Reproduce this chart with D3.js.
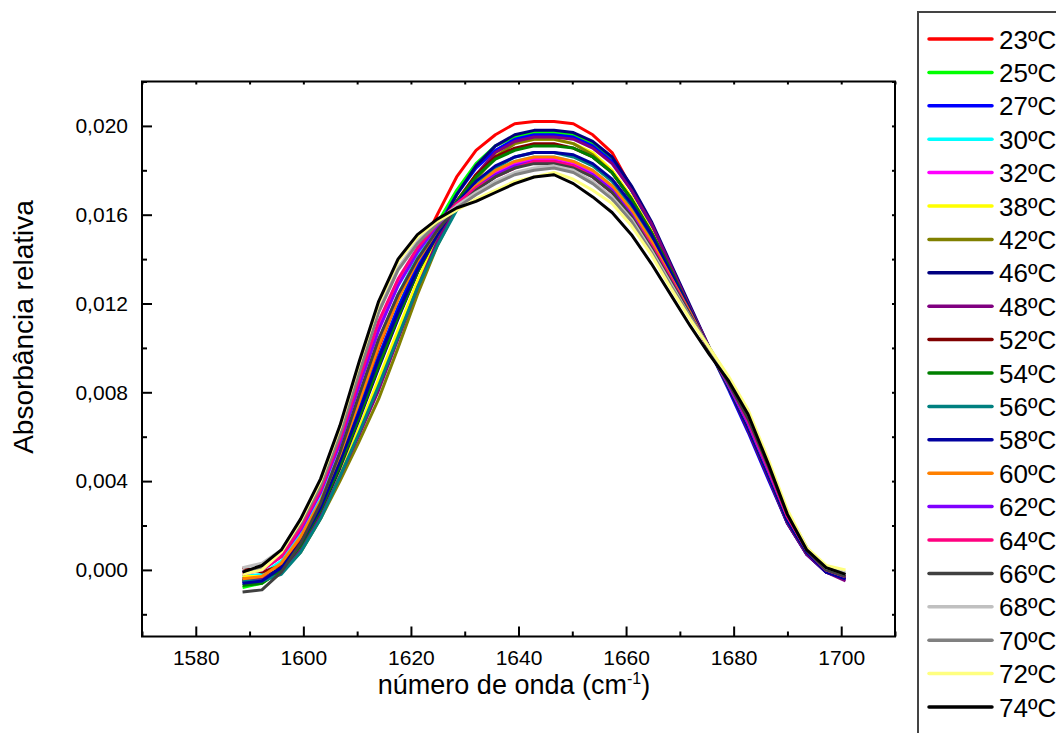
<!DOCTYPE html>
<html>
<head>
<meta charset="utf-8">
<script src="https://cdn.jsdelivr.net/npm/d3@7"></script>
<style>
  html, body { margin: 0; padding: 0; background: #fff; }
  svg { display: block; font-family: "Liberation Sans", Arial, sans-serif; }
</style>
</head>
<body>
<svg id="chart" width="1056" height="733"></svg>
<script>
// ---------------- DATA ----------------
const wavenumbers = [1588.7, 1592.3, 1595.9, 1599.5, 1603.2, 1606.8, 1610.4, 1614.0, 1617.6, 1621.2,
  1624.9, 1628.5, 1632.1, 1635.7, 1639.3, 1642.9, 1646.6, 1650.2, 1653.8, 1657.4,
  1661.0, 1664.7, 1668.3, 1671.9, 1675.5, 1679.1, 1682.7, 1686.4, 1690.0, 1693.6, 1697.2, 1700.8];

const seriesNames = ["23ºC","25ºC","27ºC","30ºC","32ºC","38ºC","42ºC","46ºC","48ºC","52ºC","54ºC",
  "56ºC","58ºC","60ºC","62ºC","64ºC","66ºC","68ºC","70ºC","72ºC","74ºC"];

const seriesColors = ["#FF0000","#00FF00","#0000FF","#00FFFF","#FF00FF","#FFFF00","#808000","#000080",
  "#800080","#800000","#008000","#008080","#0000A0","#FF8000","#8000FF","#FF0080","#404040",
  "#C0C0C0","#808080","#FFFF80","#000000"];

const s23 = [-0.0005,-0.0004,0.0002,0.0014,0.0030,0.0051,0.0075,0.0100,0.0122,0.0142,0.0160,
  0.0177,0.0189,0.0196,0.0201,0.0202,0.0202,0.0201,0.0196,0.0188,0.0172,
  0.0156,0.0137,0.0118,0.0100,0.0082,0.0064,0.0043,0.0022,0.0008,-0.0001,-0.0004];
const s25 = [-0.0008,-0.0006,0.0000,0.0012,0.0028,0.0049,0.0072,0.0096,0.0118,0.0138,0.0156,
  0.0171,0.0183,0.0191,0.0195,0.0197,0.0197,0.0196,0.0192,0.0185,0.0171,
  0.0155,0.0136,0.0118,0.0100,0.0083,0.0065,0.0044,0.0023,0.0009,0.0000,-0.0003];
const s27 = [-0.0006,-0.0005,0.0001,0.0012,0.0028,0.0049,0.0072,0.0096,0.0118,0.0137,0.0154,
  0.0169,0.0181,0.0189,0.0194,0.0196,0.0196,0.0195,0.0191,0.0184,0.0171,
  0.0155,0.0136,0.0118,0.0099,0.0081,0.0062,0.0041,0.0021,0.0007,-0.0001,-0.0004];
const s30 = [-0.0003,-0.0002,0.0004,0.0016,0.0032,0.0053,0.0078,0.0103,0.0124,0.0141,0.0155,
  0.0166,0.0174,0.0180,0.0184,0.0186,0.0186,0.0184,0.0180,0.0173,0.0162,
  0.0148,0.0132,0.0116,0.0099,0.0083,0.0066,0.0045,0.0024,0.0009,0.0000,-0.0003];
const s32 = [-0.0001,0.0000,0.0006,0.0018,0.0035,0.0057,0.0084,0.0109,0.0129,0.0144,0.0156,
  0.0166,0.0173,0.0179,0.0183,0.0185,0.0185,0.0183,0.0179,0.0172,0.0161,
  0.0147,0.0131,0.0115,0.0099,0.0083,0.0067,0.0045,0.0024,0.0009,0.0000,-0.0003];
const s38 = [-0.0003,-0.0003,0.0001,0.0010,0.0025,0.0044,0.0064,0.0086,0.0108,0.0130,0.0150,
  0.0166,0.0178,0.0187,0.0192,0.0194,0.0194,0.0192,0.0188,0.0180,0.0168,
  0.0153,0.0135,0.0117,0.0099,0.0082,0.0065,0.0044,0.0023,0.0008,0.0000,-0.0003];
const s42 = [-0.0004,-0.0004,-0.0001,0.0008,0.0023,0.0040,0.0058,0.0077,0.0100,0.0124,0.0146,
  0.0163,0.0176,0.0186,0.0192,0.0194,0.0194,0.0192,0.0187,0.0179,0.0167,
  0.0152,0.0135,0.0117,0.0099,0.0082,0.0065,0.0044,0.0024,0.0009,0.0000,-0.0003];
const s46 = [-0.0005,-0.0004,0.0001,0.0011,0.0026,0.0046,0.0068,0.0091,0.0113,0.0134,0.0153,
  0.0169,0.0182,0.0191,0.0196,0.0198,0.0198,0.0197,0.0193,0.0186,0.0173,
  0.0157,0.0138,0.0119,0.0100,0.0082,0.0063,0.0042,0.0021,0.0007,-0.0001,-0.0004];
const s48 = [-0.0004,-0.0004,0.0000,0.0009,0.0024,0.0042,0.0061,0.0081,0.0104,0.0127,0.0148,
  0.0165,0.0178,0.0188,0.0193,0.0195,0.0195,0.0194,0.0190,0.0183,0.0171,
  0.0156,0.0137,0.0118,0.0100,0.0082,0.0063,0.0042,0.0021,0.0007,-0.0001,-0.0005];
const s52 = [0.0001,-0.0001,0.0002,0.0012,0.0027,0.0047,0.0069,0.0092,0.0114,0.0134,0.0151,
  0.0166,0.0178,0.0186,0.0190,0.0192,0.0192,0.0190,0.0186,0.0179,0.0167,
  0.0152,0.0135,0.0117,0.0099,0.0082,0.0065,0.0044,0.0023,0.0008,0.0000,-0.0003];
const s54 = [-0.0007,-0.0006,0.0000,0.0011,0.0027,0.0047,0.0069,0.0092,0.0114,0.0134,0.0151,
  0.0166,0.0177,0.0185,0.0189,0.0191,0.0191,0.0190,0.0186,0.0179,0.0167,
  0.0152,0.0135,0.0117,0.0099,0.0082,0.0064,0.0043,0.0022,0.0008,0.0000,-0.0003];
const s56 = [-0.0005,-0.0005,-0.0002,0.0008,0.0023,0.0042,0.0062,0.0083,0.0105,0.0127,0.0146,
  0.0162,0.0173,0.0181,0.0186,0.0188,0.0188,0.0186,0.0182,0.0175,0.0164,
  0.0150,0.0133,0.0116,0.0099,0.0083,0.0066,0.0045,0.0024,0.0009,0.0000,-0.0003];
const s58 = [-0.0006,-0.0005,0.0001,0.0012,0.0028,0.0049,0.0071,0.0095,0.0116,0.0135,0.0151,
  0.0165,0.0175,0.0182,0.0186,0.0188,0.0188,0.0187,0.0183,0.0176,0.0165,
  0.0151,0.0134,0.0117,0.0099,0.0082,0.0064,0.0043,0.0022,0.0008,-0.0001,-0.0004];
const s60 = [-0.0004,-0.0003,0.0003,0.0015,0.0031,0.0052,0.0076,0.0101,0.0122,0.0139,0.0153,
  0.0164,0.0173,0.0180,0.0184,0.0186,0.0186,0.0184,0.0180,0.0173,0.0162,
  0.0148,0.0132,0.0116,0.0099,0.0083,0.0066,0.0045,0.0024,0.0009,0.0000,-0.0003];
const s62 = [-0.0001,0.0000,0.0006,0.0018,0.0035,0.0057,0.0083,0.0108,0.0128,0.0143,0.0155,
  0.0165,0.0172,0.0178,0.0182,0.0184,0.0184,0.0182,0.0178,0.0171,0.0160,
  0.0146,0.0131,0.0115,0.0099,0.0083,0.0066,0.0045,0.0024,0.0009,0.0000,-0.0003];
const s64 = [-0.0002,0.0000,0.0006,0.0019,0.0036,0.0059,0.0086,0.0112,0.0131,0.0145,0.0156,
  0.0165,0.0172,0.0177,0.0181,0.0184,0.0184,0.0182,0.0177,0.0170,0.0159,
  0.0146,0.0131,0.0115,0.0099,0.0084,0.0067,0.0046,0.0024,0.0009,0.0000,-0.0003];
const s66 = [-0.0010,-0.0009,-0.0001,0.0012,0.0030,0.0053,0.0079,0.0104,0.0124,0.0140,0.0153,
  0.0163,0.0171,0.0177,0.0181,0.0183,0.0183,0.0181,0.0177,0.0170,0.0159,
  0.0145,0.0130,0.0115,0.0099,0.0084,0.0068,0.0047,0.0025,0.0009,0.0000,-0.0003];
const s68 = [0.0001,0.0003,0.0009,0.0022,0.0039,0.0062,0.0090,0.0117,0.0136,0.0148,0.0157,
  0.0164,0.0170,0.0175,0.0179,0.0181,0.0182,0.0180,0.0175,0.0168,0.0158,
  0.0144,0.0129,0.0114,0.0100,0.0086,0.0071,0.0049,0.0026,0.0010,0.0001,-0.0001];
const s70 = [-0.0001,0.0001,0.0008,0.0021,0.0038,0.0061,0.0089,0.0116,0.0135,0.0147,0.0156,
  0.0163,0.0169,0.0174,0.0178,0.0180,0.0181,0.0179,0.0174,0.0167,0.0157,
  0.0143,0.0128,0.0114,0.0100,0.0086,0.0070,0.0049,0.0026,0.0010,0.0001,-0.0002];
const s72 = [-0.0002,0.0000,0.0008,0.0022,0.0040,0.0064,0.0093,0.0120,0.0139,0.0150,0.0157,
  0.0162,0.0167,0.0171,0.0175,0.0177,0.0179,0.0176,0.0171,0.0165,0.0155,
  0.0142,0.0127,0.0113,0.0100,0.0087,0.0072,0.0050,0.0027,0.0010,0.0002,0.0000];
const s74 = [-0.0001,0.0002,0.0009,0.0023,0.0041,0.0065,0.0094,0.0121,0.0140,0.0151,0.0158,
  0.0163,0.0166,0.0170,0.0174,0.0177,0.0178,0.0174,0.0168,0.0161,0.0151,
  0.0138,0.0124,0.0110,0.0097,0.0085,0.0070,0.0048,0.0025,0.0009,0.0001,-0.0002];

const seriesValues = [s23,s25,s27,s30,s32,s38,s42,s46,s48,s52,s54,s56,s58,s60,s62,s64,s66,s68,s70,s72,s74];

const xMajorTicks = [1580, 1600, 1620, 1640, 1660, 1680, 1700];
const xMinorTicks = [1570, 1590, 1610, 1630, 1650, 1670, 1690, 1710];
const yMajorTicks = [0.000, 0.004, 0.008, 0.012, 0.016, 0.020];
const yMinorTicks = [-0.002, 0.002, 0.006, 0.010, 0.014, 0.018, 0.022];
const yTickLabels = ["0,000", "0,004", "0,008", "0,012", "0,016", "0,020"];

// ---------------- LAYOUT ----------------
const svg = d3.select("#chart");
const plot = { left: 142, right: 895, top: 81.5, bottom: 636.5 };

const x = d3.scaleLinear().domain([1570, 1710]).range([plot.left, plot.right]);
const y = d3.scaleLinear().domain([-0.003, 0.022]).range([plot.bottom, plot.top]);

// Lines
const line = d3.line().x((d, i) => x(wavenumbers[i])).y(d => y(d));
svg.append("g").selectAll("path")
  .data(seriesValues)
  .join("path")
  .attr("d", d => line(d))
  .attr("fill", "none")
  .attr("stroke", (d, i) => seriesColors[i])
  .attr("stroke-width", 3)
  .attr("stroke-linejoin", "round");

// Axes
function styleAxis(g) {
  g.select(".domain").remove();
  g.selectAll(".tick line").attr("stroke", "#000").attr("stroke-width", 2);
  g.selectAll(".tick text").attr("fill", "#000").attr("font-size", 21)
    .attr("font-family", "'Liberation Sans', Arial, sans-serif");
}

svg.append("g").attr("transform", `translate(0,${plot.bottom})`)
  .call(d3.axisBottom(x).tickValues(xMajorTicks).tickSize(-10).tickSizeOuter(0).tickPadding(13.5).tickFormat(d3.format("d")))
  .call(styleAxis);
svg.append("g").attr("transform", `translate(0,${plot.bottom})`)
  .call(d3.axisBottom(x).tickValues(xMinorTicks).tickSize(-5).tickSizeOuter(0).tickFormat(""))
  .call(styleAxis);
svg.append("g").attr("transform", `translate(${plot.left},0)`)
  .call(d3.axisLeft(y).tickValues(yMajorTicks).tickSize(-10).tickSizeOuter(0).tickPadding(14)
    .tickFormat((d, i) => yTickLabels[i]))
  .call(styleAxis);
svg.append("g").attr("transform", `translate(${plot.left},0)`)
  .call(d3.axisLeft(y).tickValues(yMinorTicks).tickSize(-5).tickSizeOuter(0).tickFormat(""))
  .call(styleAxis);
// top & right mirror ticks
svg.append("g").attr("transform", `translate(0,${plot.top})`)
  .call(d3.axisTop(x).tickValues(xMajorTicks.concat(xMinorTicks)).tickSize(-3).tickSizeOuter(0).tickFormat(""))
  .call(styleAxis);
svg.append("g").attr("transform", `translate(${plot.right},0)`)
  .call(d3.axisRight(y).tickValues(yMajorTicks.concat(yMinorTicks)).tickSize(-3).tickSizeOuter(0).tickFormat(""))
  .call(styleAxis);

// Frame
svg.append("rect")
  .attr("x", plot.left).attr("y", plot.top)
  .attr("width", plot.right - plot.left).attr("height", plot.bottom - plot.top)
  .attr("fill", "none").attr("stroke", "#000").attr("stroke-width", 2);

// Axis titles
const xt = svg.append("text")
  .attr("x", 514).attr("y", 694)
  .attr("text-anchor", "middle").attr("font-size", 27).attr("fill", "#000");
xt.append("tspan").text("número de onda (cm");
xt.append("tspan").attr("font-size", 16).attr("dy", -10).text("-1");
xt.append("tspan").attr("dy", 10).text(")");

svg.append("text")
  .attr("transform", "translate(33,327) rotate(-90)")
  .attr("text-anchor", "middle").attr("font-size", 28).attr("fill", "#000")
  .text("Absorbância relativa");

// Legend
svg.append("rect")
  .attr("x", 918).attr("y", 12).attr("width", 200).attr("height", 800)
  .attr("fill", "#fff").attr("stroke", "#444").attr("stroke-width", 2);
const leg = svg.append("g").selectAll("g")
  .data(seriesNames)
  .join("g")
  .attr("transform", (d, i) => `translate(0,${39 + i * 33.4})`);
leg.append("line")
  .attr("x1", 929).attr("x2", 992).attr("y1", 0).attr("y2", 0)
  .attr("stroke", (d, i) => seriesColors[i]).attr("stroke-width", 3.5).attr("stroke-linecap", "round");
leg.append("text")
  .attr("x", 999).attr("y", 9.5)
  .attr("font-size", 26).attr("fill", "#000")
  .text(d => d);
</script>
</body>
</html>
